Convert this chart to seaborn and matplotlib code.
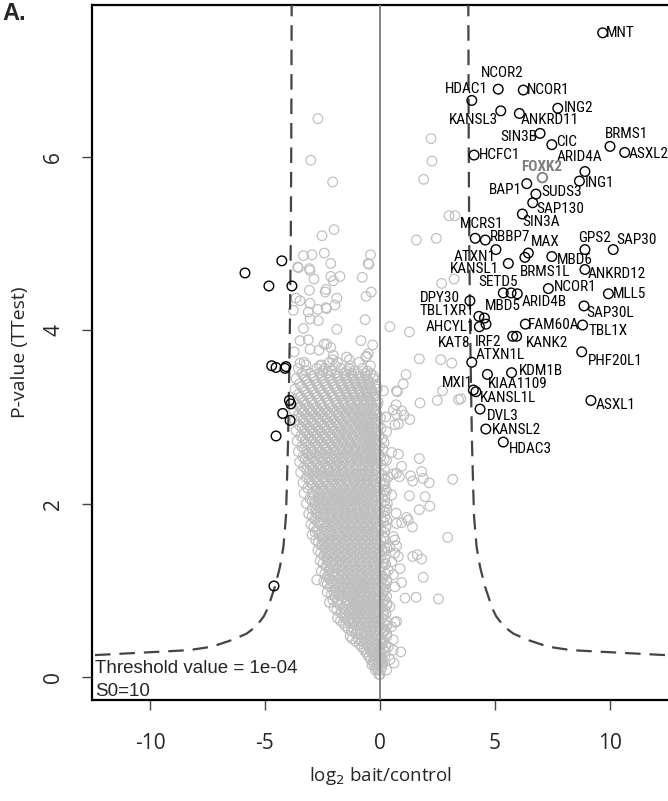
import numpy as np
import pandas as pd
import matplotlib
matplotlib.use("Agg")
import matplotlib.pyplot as plt
import matplotlib.font_manager as fm
import seaborn as sns

# ---------------- data ----------------
hit_names = ["MNT", "NCOR2", "HDAC1", "NCOR1", "KANSL3", "ANKRD11", "ING2", "SIN3B",
             "CIC", "BRMS1", "ASXL2", "HCFC1", "ARID4A", "ING1", "BAP1", "SUDS3",
             "SAP130", "SIN3A", "MCRS1", "RBBP7", "MAX", "BRMS1L", "ATXN1", "MBD6",
             "GPS2", "SAP30", "KANSL1", "ANKRD12", "SETD5", "MBD5", "ARID4B", "NCOR1 ",
             "MLL5", "DPY30", "TBL1XR1", "", "SAP30L", "AHCYL1", "KAT8", "FAM60A",
             "TBL1X", "IRF2", "KANK2", "PHF20L1", "ATXN1L", "KDM1B", "KIAA1109", "MXI1",
             "KANSL1L", "ASXL1", "DVL3", "KANSL2", "HDAC3"]
hit_x = [9.68, 5.14, 3.99, 6.23, 5.25, 6.06, 7.73, 6.96,
         7.47, 10.00, 10.64, 4.09, 8.91, 8.67, 6.38, 6.78,
         6.64, 6.19, 4.14, 4.58, 6.45, 6.30, 5.04, 7.47,
         8.91, 10.14, 5.58, 8.91, 5.36, 5.70, 5.97, 7.32,
         9.93, 3.91, 4.30, 4.54, 8.87, 4.32, 4.61, 6.32,
         8.81, 5.77, 5.94, 8.77, 3.99, 5.72, 4.67, 4.06,
         4.17, 9.17, 4.35, 4.60, 5.36]
hit_y = [7.43, 6.78, 6.65, 6.77, 6.53, 6.50, 6.56, 6.27,
         6.14, 6.12, 6.05, 6.02, 5.83, 5.72, 5.69, 5.57,
         5.47, 5.34, 5.06, 5.04, 4.89, 4.84, 4.93, 4.85,
         4.93, 4.93, 4.77, 4.70, 4.43, 4.43, 4.42, 4.48,
         4.42, 4.34, 4.16, 4.14, 4.28, 4.04, 4.07, 4.07,
         4.06, 3.93, 3.93, 3.75, 3.63, 3.51, 3.49, 3.31,
         3.29, 3.19, 3.09, 2.86, 2.71]

left_x = [-4.27, -5.87, -4.83, -3.83, -4.71, -4.52, -4.13, -4.09, -3.94, -3.88, -4.23, -3.91, -4.52, -4.61]
left_y = [4.80, 4.66, 4.51, 4.51, 3.59, 3.57, 3.56, 3.58, 3.19, 3.15, 3.04, 2.96, 2.78, 1.05]

bait_name = "FOXK2"
bait_x = [7.06]
bait_y = [5.76]

# dense core of non-significant preys, read row by row: (y level, x positions)
core_rows = [
    (0.03, [0.0, -0.05]),
    (0.08, [-0.1, 0.02, -0.2]),
    (0.14, [-0.25, -0.1, 0.05, -0.35]),
    (0.20, [-0.4, -0.2, 0.0, 0.1]),
    (0.26, [-0.55, -0.3, -0.12, 0.05]),
    (0.32, [-0.7, -0.45, -0.22, 0.0, 0.15]),
    (0.38, [-0.9, -0.6, -0.35, -0.1, 0.08]),
    (0.44, [-1.2, -0.95, -0.7, -0.45, -0.2, 0.02]),
    (0.50, [-1.05, -0.8, -0.55, -0.3, -0.08, 0.12]),
    (0.56, [-1.4, -1.15, -0.9, -0.62, -0.38, -0.15, 0.05]),
    (0.62, [-1.6, -1.3, -1.0, -0.75, -0.5, -0.25, 0.0, 0.18]),
    (0.68, [-1.85, -1.5, -1.2, -0.95, -0.7, -0.4, -0.18, 0.08]),
    (0.74, [-1.7, -1.35, -1.1, -0.85, -0.58, -0.3, -0.05]),
    (0.80, [-2.0, -1.6, -1.25, -1.0, -0.75, -0.5, -0.22, 0.05]),
    (0.86, [-2.2, -1.85, -1.45, -1.15, -0.9, -0.62, -0.35, -0.1, 0.12]),
    (0.92, [-1.95, -1.6, -1.3, -1.05, -0.78, -0.5, -0.25, 0.0]),
    (0.98, [-2.3, -2.0, -1.7, -1.4, -1.12, -0.85, -0.6, -0.3, -0.05, 0.15]),
    (1.04, [-2.15, -1.8, -1.52, -1.25, -0.95, -0.7, -0.42, -0.15, 0.05]),
    (1.10, [-2.45, -2.1, -1.88, -1.6, -1.33, -1.05, -0.8, -0.5, -0.25, 0.02]),
    (1.16, [-2.3, -2.0, -1.7, -1.45, -1.18, -0.9, -0.62, -0.35, -0.1, 0.1]),
    (1.22, [-2.55, -2.2, -1.95, -1.65, -1.38, -1.1, -0.82, -0.55, -0.28, 0.0]),
    (1.28, [-2.35, -2.05, -1.78, -1.5, -1.22, -0.95, -0.68, -0.4, -0.15, 0.08]),
    (1.34, [-2.6, -2.28, -2.0, -1.72, -1.45, -1.15, -0.88, -0.6, -0.32, -0.05]),
    (1.40, [-2.45, -2.15, -1.85, -1.58, -1.3, -1.02, -0.75, -0.48, -0.2, 0.05]),
    (1.46, [-2.7, -2.38, -2.1, -1.8, -1.52, -1.25, -0.95, -0.68, -0.4, -0.12, 0.1]),
    (1.52, [-2.55, -2.25, -1.95, -1.66, -1.38, -1.1, -0.82, -0.55, -0.28, 0.0]),
    (1.58, [-2.8, -2.5, -2.2, -1.9, -1.6, -1.32, -1.05, -0.76, -0.5, -0.22, 0.05]),
    (1.64, [-2.95, -2.65, -2.35, -2.05, -1.75, -1.45, -1.18, -0.9, -0.62, -0.35, -0.08]),
    (1.70, [-2.75, -2.45, -2.15, -1.85, -1.56, -1.28, -1.0, -0.72, -0.45, -0.18, 0.05]),
    (1.76, [-3.0, -2.6, -2.3, -2.0, -1.7, -1.42, -1.12, -0.85, -0.58, -0.3, -0.05]),
    (1.82, [-2.85, -2.5, -2.2, -1.9, -1.62, -1.35, -1.05, -0.78, -0.5, -0.22, 0.05]),
    (1.88, [-3.1, -2.75, -2.42, -2.12, -1.8, -1.5, -1.22, -0.95, -0.66, -0.38, -0.1]),
    (1.94, [-2.95, -2.6, -2.3, -2.0, -1.7, -1.4, -1.12, -0.85, -0.55, -0.28, 0.0]),
    (2.00, [-3.2, -2.85, -2.5, -2.18, -1.88, -1.58, -1.3, -1.0, -0.72, -0.45, -0.18, 0.05]),
    (2.06, [-3.05, -2.7, -2.4, -2.08, -1.78, -1.48, -1.2, -0.9, -0.62, -0.35, -0.08]),
    (2.12, [-3.3, -2.95, -2.6, -2.28, -1.95, -1.65, -1.36, -1.08, -0.8, -0.52, -0.25, 0.02]),
    (2.18, [-3.15, -2.8, -2.48, -2.15, -1.85, -1.55, -1.25, -0.96, -0.68, -0.4, -0.12]),
    (2.24, [-3.35, -3.0, -2.68, -2.35, -2.02, -1.72, -1.42, -1.12, -0.85, -0.56, -0.28, 0.0]),
    (2.30, [-3.2, -2.85, -2.52, -2.2, -1.9, -1.6, -1.3, -1.0, -0.72, -0.45, -0.15]),
    (2.36, [-3.45, -3.1, -2.75, -2.42, -2.1, -1.8, -1.5, -1.2, -0.9, -0.6, -0.32, -0.05]),
    (2.42, [-3.3, -2.95, -2.6, -2.28, -1.96, -1.65, -1.35, -1.05, -0.78, -0.5, -0.2]),
    (2.48, [-3.5, -3.15, -2.8, -2.48, -2.15, -1.85, -1.55, -1.25, -0.95, -0.65, -0.38, -0.1]),
    (2.54, [-3.35, -3.0, -2.65, -2.32, -2.0, -1.7, -1.4, -1.1, -0.82, -0.55, -0.25, 0.02]),
    (2.60, [-3.55, -3.2, -2.88, -2.55, -2.22, -1.9, -1.6, -1.3, -1.0, -0.7, -0.42, -0.15]),
    (2.66, [-3.4, -3.05, -2.72, -2.4, -2.06, -1.75, -1.45, -1.15, -0.85, -0.58, -0.3, -0.02]),
    (2.72, [-3.6, -3.25, -2.9, -2.58, -2.25, -1.92, -1.62, -1.32, -1.02, -0.72, -0.45, -0.18]),
    (2.78, [-3.45, -3.1, -2.75, -2.42, -2.1, -1.78, -1.48, -1.18, -0.88, -0.6, -0.32, -0.05]),
    (2.84, [-3.65, -3.3, -2.95, -2.6, -2.28, -1.95, -1.65, -1.35, -1.05, -0.75, -0.48, -0.2]),
    (2.90, [-3.5, -3.15, -2.8, -2.45, -2.12, -1.8, -1.5, -1.2, -0.9, -0.62, -0.35, -0.08]),
    (2.96, [-3.7, -3.35, -3.0, -2.65, -2.3, -1.98, -1.66, -1.35, -1.05, -0.78, -0.5, -0.22]),
    (3.02, [-3.55, -3.2, -2.85, -2.5, -2.15, -1.82, -1.5, -1.2, -0.92, -0.65, -0.38, -0.1]),
    (3.08, [-3.75, -3.4, -3.05, -2.7, -2.35, -2.0, -1.68, -1.38, -1.08, -0.8, -0.52, -0.25]),
    (3.14, [-3.6, -3.25, -2.9, -2.55, -2.2, -1.85, -1.55, -1.25, -0.95, -0.68, -0.4, -0.12]),
    (3.20, [-3.75, -3.35, -3.0, -2.65, -2.3, -1.95, -1.62, -1.3, -1.0, -0.72, -0.45, -0.2]),
    (3.26, [-3.55, -3.15, -2.8, -2.45, -2.1, -1.75, -1.45, -1.15, -0.85, -0.58, -0.3]),
    (3.32, [-3.7, -3.3, -2.95, -2.6, -2.25, -1.9, -1.55, -1.25, -0.95, -0.65, -0.38, -0.12]),
    (3.38, [-3.5, -3.1, -2.75, -2.4, -2.05, -1.7, -1.38, -1.05, -0.78, -0.5, -0.22]),
    (3.44, [-3.65, -3.25, -2.88, -2.52, -2.15, -1.8, -1.48, -1.15, -0.85, -0.55, -0.3]),
    (3.50, [-3.4, -3.0, -2.62, -2.28, -1.92, -1.58, -1.25, -0.95, -0.65, -0.4]),
    (3.56, [-3.55, -2.75, -2.4, -1.7, -1.35, -0.75]),
    (3.63, [-3.3, -2.2, -1.85, -0.9]),
]

# second, interleaved pass over the core (densest part of the funnel)
core_rows_b = [
    (0.11, [-0.15, 0.08]),
    (0.17, [-0.3, -0.05, 0.12]),
    (0.23, [-0.48, -0.22, 0.02, 0.2]),
    (0.29, [-0.62, -0.38, -0.05, 0.22]),
    (0.35, [-0.8, -0.52, -0.28, -0.02, 0.25]),
    (0.41, [-1.05, -0.78, -0.5, -0.25, 0.1]),
    (0.47, [-1.3, -0.6, -0.35, -0.12, 0.3]),
    (0.53, [-1.25, -0.95, -0.68, -0.42, -0.18, 0.2]),
    (0.59, [-1.5, -1.05, -0.82, -0.55, -0.28, -0.05, 0.3]),
    (0.65, [-1.72, -1.38, -1.1, -0.85, -0.6, -0.32, -0.08, 0.25]),
    (0.71, [-1.6, -1.28, -1.02, -0.78, -0.52, -0.22, 0.15]),
    (0.77, [-1.88, -1.48, -1.18, -0.92, -0.66, -0.4, -0.12, 0.22]),
    (0.83, [-1.75, -1.35, -1.08, -0.82, -0.55, -0.28, 0.0, 0.3]),
    (0.89, [-2.05, -1.7, -1.4, -1.2, -0.95, -0.7, -0.45, -0.18, 0.2]),
    (0.95, [-2.12, -1.82, -1.5, -1.18, -0.92, -0.68, -0.4, -0.15, 0.1]),
    (1.01, [-1.95, -1.6, -1.32, -1.02, -0.78, -0.5, -0.22, 0.25]),
    (1.07, [-2.3, -1.98, -1.68, -1.42, -1.15, -0.88, -0.6, -0.35, -0.08, 0.2]),
    (1.13, [-2.2, -1.78, -1.5, -1.22, -0.98, -0.7, -0.45, -0.18, 0.12]),
    (1.19, [-2.4, -2.08, -1.82, -1.55, -1.28, -1.0, -0.75, -0.48, -0.22, 0.25]),
    (1.25, [-2.18, -1.88, -1.6, -1.32, -1.05, -0.78, -0.52, -0.25, 0.0]),
    (1.31, [-2.48, -2.15, -1.9, -1.62, -1.35, -1.08, -0.8, -0.52, -0.25, 0.18]),
    (1.37, [-2.3, -2.02, -1.72, -1.42, -1.18, -0.9, -0.62, -0.35, -0.1, 0.22]),
    (1.43, [-2.58, -2.25, -1.98, -1.68, -1.4, -1.12, -0.85, -0.58, -0.3, -0.02]),
    (1.49, [-2.4, -2.1, -1.82, -1.55, -1.25, -0.98, -0.7, -0.42, -0.15, 0.2]),
    (1.55, [-2.68, -2.35, -2.05, -1.78, -1.48, -1.2, -0.92, -0.65, -0.38, -0.1]),
    (1.61, [-2.5, -2.2, -1.92, -1.62, -1.35, -1.08, -0.8, -0.52, -0.25, 0.15]),
    (1.67, [-2.82, -2.52, -2.22, -1.95, -1.65, -1.38, -1.1, -0.82, -0.55, -0.28, 0.2]),
    (1.73, [-2.88, -2.32, -2.08, -1.8, -1.52, -1.22, -0.95, -0.68, -0.42, -0.12, 0.25]),
    (1.79, [-2.7, -2.42, -2.12, -1.82, -1.55, -1.28, -0.98, -0.7, -0.4, -0.15, 0.15]),
    (1.85, [-2.95, -2.6, -2.3, -2.02, -1.72, -1.42, -1.15, -0.85, -0.58, -0.3, 0.22]),
    (1.91, [-2.8, -2.48, -2.18, -1.88, -1.58, -1.28, -1.0, -0.72, -0.45, -0.15, 0.18]),
    (1.97, [-2.72, -2.42, -2.12, -1.82, -1.55, -1.25, -0.98, -0.7, -0.4, -0.12, 0.25]),
    (2.03, [-2.95, -2.65, -2.32, -2.02, -1.72, -1.42, -1.15, -0.85, -0.58, -0.3, 0.2]),
    (2.09, [-2.85, -2.55, -2.22, -1.92, -1.62, -1.35, -1.05, -0.75, -0.48, -0.2, 0.22]),
    (2.15, [-2.72, -2.42, -2.1, -1.8, -1.5, -1.22, -0.92, -0.65, -0.38, -0.1, 0.28]),
    (2.21, [-2.92, -2.58, -2.25, -1.95, -1.65, -1.35, -1.05, -0.78, -0.5, -0.2, 0.15]),
    (2.27, [-3.08, -2.75, -2.42, -2.1, -1.78, -1.48, -1.18, -0.9, -0.6, -0.32, 0.22]),
    (2.33, [-2.95, -2.62, -2.3, -1.98, -1.68, -1.38, -1.08, -0.8, -0.52, -0.22, 0.1]),
    (2.39, [-3.18, -2.88, -2.55, -2.22, -1.92, -1.62, -1.32, -1.02, -0.72, -0.45, -0.15, 0.2]),
    (2.45, [-3.05, -2.72, -2.38, -2.05, -1.75, -1.45, -1.15, -0.85, -0.55, -0.28, 0.05]),
    (2.51, [-3.25, -2.9, -2.58, -2.25, -1.92, -1.62, -1.32, -1.02, -0.72, -0.42, -0.15, 0.18]),
    (2.57, [-3.12, -2.78, -2.45, -2.12, -1.8, -1.5, -1.2, -0.9, -0.62, -0.35, -0.05]),
    (2.63, [-3.3, -2.98, -2.65, -2.32, -2.0, -1.68, -1.38, -1.08, -0.78, -0.5, -0.22, 0.12]),
    (2.69, [-3.18, -2.82, -2.5, -2.15, -1.85, -1.55, -1.25, -0.95, -0.65, -0.38, -0.1]),
    (2.75, [-3.35, -3.0, -2.68, -2.35, -2.02, -1.7, -1.4, -1.1, -0.8, -0.52, -0.25, 0.1]),
    (2.81, [-3.2, -2.85, -2.52, -2.18, -1.85, -1.55, -1.25, -0.95, -0.68, -0.4, -0.12]),
    (2.87, [-3.38, -3.05, -2.7, -2.38, -2.05, -1.72, -1.42, -1.12, -0.82, -0.55, -0.25, 0.05]),
    (2.93, [-3.25, -2.9, -2.55, -2.22, -1.9, -1.58, -1.28, -0.98, -0.7, -0.42, -0.15]),
    (2.99, [-3.42, -3.08, -2.72, -2.4, -2.08, -1.75, -1.45, -1.15, -0.85, -0.55, -0.28, 0.02]),
    (3.05, [-3.3, -2.95, -2.6, -2.25, -1.92, -1.6, -1.3, -1.0, -0.72, -0.45, -0.18]),
    (3.11, [-3.45, -3.1, -2.78, -2.45, -2.1, -1.78, -1.45, -1.15, -0.85, -0.55, -0.28]),
    (3.17, [-3.3, -2.95, -2.6, -2.25, -1.9, -1.58, -1.28, -0.98, -0.68, -0.4, -0.08]),
    (3.23, [-3.45, -3.1, -2.72, -2.38, -2.05, -1.72, -1.4, -1.1, -0.8, -0.52, -0.25]),
    (3.29, [-3.25, -2.88, -2.52, -2.18, -1.82, -1.5, -1.2, -0.9, -0.6, -0.35]),
    (3.35, [-3.4, -3.02, -2.68, -2.32, -1.98, -1.65, -1.32, -1.02, -0.72, -0.45, -0.15]),
    (3.41, [-3.18, -2.8, -2.45, -2.1, -1.75, -1.42, -1.1, -0.8, -0.5]),
    (3.47, [-3.3, -2.92, -2.55, -2.2, -1.85, -1.52, -1.2, -0.9, -0.6, -0.28]),
    (3.53, [-3.22, -2.48, -2.12, -1.45, -1.12, -0.55]),
    (3.59, [-2.62, -1.95, -1.28, -0.42]),
]

upper_x = [-2.70, -3.01, -2.06, -2.00, -2.52, -3.33, -2.96, -2.42, -2.14, -0.41, -0.51, -3.58,
           -3.07, -3.55, -3.04, -2.87, -2.14, -2.03, -1.74, -0.77, -0.48, -3.07, -2.35, -2.38,
           -1.88, -0.61, -0.38, -3.65, -3.48, -3.77, -3.04, -3.12, -2.70, -2.35, -2.32, -1.96,
           -3.04, -2.68, -1.88, -0.65, -3.33, -3.48, -3.12, -3.04, -2.65, -2.43, -2.32, -2.14,
           -0.83, -0.32, -3.73, -2.03, -2.06, -1.45, -1.33, -0.58, -0.62, -0.51, -3.48, -3.22,
           -2.54, -2.75]
upper_y = [6.44, 5.96, 5.71, 5.16, 5.09, 4.86, 4.87, 4.89, 4.77, 4.87, 4.77, 4.73,
           4.71, 4.72, 4.69, 4.59, 4.62, 4.57, 4.62, 4.61, 4.76, 4.46, 4.47, 4.44,
           4.37, 4.39, 4.44, 4.37, 4.34, 4.23, 4.31, 4.21, 4.24, 4.26, 4.25, 4.29,
           4.13, 4.11, 4.01, 4.12, 4.02, 3.88, 3.89, 3.78, 3.77, 3.84, 3.84, 3.80,
           3.88, 3.83, 3.75, 3.71, 3.66, 3.69, 3.66, 3.70, 3.69, 3.73, 3.62, 3.60,
           3.60, 1.12]

right_x = [2.22, 2.26, 1.90, 3.00, 3.26, 1.58, 2.45, 2.68, 3.22, 0.43, 1.28, 1.71, 2.64, 3.12,
           1.13, 1.01, 0.75, 0.72, 2.72, 2.49, 1.74, 3.41, 3.51, 0.70, 0.94, 1.04, 1.30, 0.58,
           0.72, 0.80, 0.65, 0.29, 0.51, 0.80, 1.71, 0.94, 0.72, 0.58, 0.84, 0.36, 0.22, 1.33,
           1.42, 1.81, 1.88, 2.14, 3.16, 0.51, 1.28, 1.96, 1.71, 2.17, 0.29, 0.70, 0.29, 0.72,
           0.94, 1.16, 1.23, 1.41, 2.94, 0.26, 0.58, 0.65, 0.43, 0.72, 0.29, 0.65, 0.80, 1.42,
           1.62, 1.81, 0.51, 0.87, 0.36, 0.58, 0.94, 0.29, 0.65, 1.88, 1.09, 1.57, 2.54, 0.29,
           0.43, 0.26, 0.72, 0.51, 0.65, 0.29, 0.58, 0.36, 0.90, 0.58, 0.43, 0.61, 0.29,
           0.22, 0.30, 0.18, 0.25, 0.20, 0.32, 0.20, 0.28, 0.18, 0.25, 0.15, 0.20, 0.30, 0.12]
right_y = [6.21, 5.95, 5.74, 5.32, 5.32, 5.04, 5.06, 4.54, 4.59, 4.04, 3.98, 3.67, 3.66, 3.62,
           3.49, 3.38, 3.29, 3.30, 3.30, 3.19, 3.16, 3.20, 3.21, 3.14, 3.07, 3.02, 2.97, 3.08,
           3.03, 2.92, 2.91, 2.83, 2.59, 2.57, 2.52, 2.43, 2.35, 2.34, 2.31, 2.31, 2.23, 2.32,
           2.26, 2.37, 2.29, 2.24, 2.28, 2.10, 2.09, 2.08, 1.93, 1.97, 1.93, 1.89, 1.81, 1.77,
           1.78, 1.84, 1.81, 1.73, 1.61, 1.73, 1.62, 1.58, 1.50, 1.51, 1.49, 1.43, 1.39, 1.39,
           1.41, 1.36, 1.33, 1.25, 1.23, 1.18, 1.09, 1.12, 1.04, 1.15, 0.91, 0.92, 0.90, 0.93,
           0.81, 0.73, 0.64, 0.58, 0.63, 0.50, 0.43, 0.35, 0.29, 0.31, 0.20, 0.16, 0.08,
           0.55, 0.85, 1.00, 1.30, 1.60, 2.00, 2.15, 2.50, 2.70, 3.00, 3.30, 1.45, 1.10, 0.40]

curve_x = [3.84, 3.86, 3.88, 3.92, 3.96, 4.00, 4.05, 4.09, 4.20, 4.35, 4.57, 4.87, 5.05,
           5.40, 5.80, 6.40, 7.30, 8.30, 9.70, 12.60]
curve_y = [7.80, 6.00, 5.00, 4.00, 3.30, 2.70, 2.20, 1.85, 1.50, 1.27, 1.04, 0.80, 0.70,
           0.58, 0.50, 0.43, 0.35, 0.31, 0.29, 0.25]

x_ticks = [-10, -5, 0, 5, 10]
y_ticks = [0, 2, 4, 6]
threshold_text = ["Threshold value = 1e-04", "S0=10"]

# label offsets in pixels (layout)
label_offsets = {
    "MNT": (18, 0), "NCOR2": (4, 16), "HDAC1": (-5, 11), "NCOR1": (25, 0),
    "KANSL3": (-27, -9), "ANKRD11": (30, -7), "ING2": (21, 0), "SIN3B": (-21, -4),
    "CIC": (15, 3), "BRMS1": (17, 12), "ASXL2": (24, -2), "HCFC1": (25, 0),
    "ARID4A": (-5, 15), "ING1": (20, -2), "BAP1": (-21, -6), "SUDS3": (26, 2),
    "SAP130": (28, -6), "SIN3A": (19, -8), "MCRS1": (6, 14), "RBBP7": (25, 3),
    "MAX": (17, 11), "BRMS1L": (20, -15), "ATXN1": (-21, -7), "MBD6": (23, -3),
    "GPS2": (10, 12), "SAP30": (23, 10), "KANSL1": (-34, -6), "ANKRD12": (32, -4),
    "SETD5": (-5, 11), "MBD5": (-8, -13), "ARID4B": (27, -8), "NCOR1 ": (27, 2),
    "MLL5": (21, 0), "DPY30": (-30, 3), "TBL1XR1": (-32, 5), "SAP30L": (26, -7),
    "AHCYL1": (-29, 0), "KAT8": (-32, -19), "FAM60A": (28, -1), "TBL1X": (26, -6),
    "IRF2": (-25, -6), "KANK2": (30, -7), "PHF20L1": (34, -9), "ATXN1L": (28, 7),
    "KDM1B": (29, 2), "KIAA1109": (30, -10), "MXI1": (-16, 7), "KANSL1L": (32, -6),
    "ASXL1": (25, -5), "DVL3": (23, -7), "KANSL2": (31, -1), "HDAC3": (27, -7),
    "FOXK2": (-1, 11),
}

# ---------------- tables ----------------
all_rows = core_rows + core_rows_b
core_x = [x for _, xs in all_rows for x in xs]
core_y = [y for y, xs in all_rows for _ in xs]
gray_df = pd.DataFrame({"x": core_x + upper_x + right_x,
                        "y": core_y + upper_y + right_y})
hits_df = pd.DataFrame({"name": hit_names, "x": hit_x, "y": hit_y})
left_df = pd.DataFrame({"x": left_x, "y": left_y})
bait_df = pd.DataFrame({"name": [bait_name], "x": bait_x, "y": bait_y})
curve_r = pd.DataFrame({"x": curve_x, "y": curve_y})
curve_l = pd.DataFrame({"x": [-v for v in curve_x], "y": curve_y})

# ---------------- fonts ----------------
sns.set_theme(style="white")
plt.rcParams["font.family"] = ["Open Sans", "DejaVu Sans"]


def find_condensed(bold=False):
    prefs = ["liberationsansnarrow", "arialnarrow", "robotocondensed",
             "opensanscondensed", "notosanscondensed", "dejavusanscondensed"]
    cands = []
    for f in fm.fontManager.ttflist:
        base = f.fname.lower().replace("-", "").replace("_", "").split("/")[-1]
        if not ("narrow" in base or "condensed" in base):
            continue
        if "mono" in base or ("serif" in base and "sans" not in base):
            continue
        if ("bold" in base) != bold or "italic" in base or "oblique" in base:
            continue
        if any(k in base for k in ("light", "thin", "black", "medium", "semibold", "extra")):
            continue
        rank = next((i for i, p in enumerate(prefs) if p in base), len(prefs))
        cands.append((rank, f.fname, base))
    if not cands:
        return None, None
    cands.sort()
    return cands[0][1], cands[0][2]


narrow_file, narrow_base = find_condensed(False)
narrow_bold_file, _ = find_condensed(True)
if narrow_file is not None:
    size = 11.5 if ("narrow" in narrow_base) else 11.0
    label_fp = fm.FontProperties(fname=narrow_file, size=size)
    bait_fp = fm.FontProperties(fname=narrow_bold_file or narrow_file, size=size)
else:
    label_fp = fm.FontProperties(family=["Liberation Sans", "DejaVu Sans"], size=9.5)
    bait_fp = fm.FontProperties(family=["Liberation Sans", "DejaVu Sans"], size=9.5, weight="bold")

# ---------------- figure ----------------
W, H = 668, 801
fig = plt.figure(figsize=(W / 100, H / 100), dpi=100)
ax_left, ax_right, ax_top, ax_bot = 92, 669, 5, 700
ax = fig.add_axes([ax_left / W, 1 - ax_bot / H, (ax_right - ax_left) / W, (ax_bot - ax_top) / H])
x0_px, ux = 380, 23.0
y0_px, uy = 677, 86.7
ax.set_xlim((ax_left - x0_px) / ux, (ax_right - x0_px) / ux)
ax.set_ylim((y0_px - ax_bot) / uy, (y0_px - ax_top) / uy)

GRAY = "#BEBEBE"
ms = 48

sns.scatterplot(data=gray_df, x="x", y="y", ax=ax, s=ms, marker="o", legend=False, zorder=2)
ax.collections[-1].set_facecolor("none")
ax.collections[-1].set_edgecolor(GRAY)
ax.collections[-1].set_linewidth(0.85)

ax.axvline(0, color="#7a7a7a", lw=1.3, zorder=3)

for df in (curve_r, curve_l):
    sns.lineplot(data=df, x="x", y="y", ax=ax, sort=False, estimator=None,
                 color="#444444", lw=1.6, zorder=4, legend=False)
    ax.lines[-1].set_dashes([7, 4])

for df in (hits_df, left_df):
    sns.scatterplot(data=df, x="x", y="y", ax=ax, s=ms, marker="o", legend=False, zorder=5)
    ax.collections[-1].set_facecolor("none")
    ax.collections[-1].set_edgecolor("black")
    ax.collections[-1].set_linewidth(1.0)

sns.scatterplot(data=bait_df, x="x", y="y", ax=ax, s=ms, marker="o", legend=False, zorder=5)
ax.collections[-1].set_facecolor("none")
ax.collections[-1].set_edgecolor("#7f7f7f")
ax.collections[-1].set_linewidth(1.3)

for _, r in hits_df.iterrows():
    if not r["name"].strip():
        continue
    dx, dy = label_offsets[r["name"]]
    ax.annotate(r["name"].strip(), (r["x"], r["y"]), xytext=(dx, dy), textcoords="offset pixels",
                ha="center", va="center", fontproperties=label_fp, color="black", zorder=6)
for _, r in bait_df.iterrows():
    dx, dy = label_offsets[r["name"]]
    ax.annotate(r["name"], (r["x"], r["y"]), xytext=(dx, dy), textcoords="offset pixels",
                ha="center", va="center", fontproperties=bait_fp, color="#7f7f7f", zorder=6)

ax.text(0.005, 0.045, threshold_text[0], transform=ax.transAxes, ha="left", va="center",
        fontsize=13.5, family=["Liberation Sans", "DejaVu Sans"])
ax.text(0.005, 0.012, threshold_text[1], transform=ax.transAxes, ha="left", va="center",
        fontsize=13.5, family=["Liberation Sans", "DejaVu Sans"])

for side in ("left", "top", "bottom"):
    ax.spines[side].set_color("black")
    ax.spines[side].set_linewidth(1.6)
ax.spines["right"].set_visible(False)

ax.set_xticks(x_ticks)
ax.set_xticklabels([str(t) for t in x_ticks])
ax.set_yticks(y_ticks)
ax.set_yticklabels([str(t) for t in y_ticks], rotation=90, va="center")
ax.tick_params(axis="both", direction="out", length=7, width=1.0, color="#444444",
               labelsize=15, bottom=True, left=True)
ax.tick_params(axis="x", pad=17)
ax.tick_params(axis="y", pad=13)
ax.set_xlabel(r"log$_2$ bait/control", fontsize=13.5, labelpad=8)
ax.set_ylabel("P-value (TTest)", fontsize=14, labelpad=10)

fig.text(0.004, 1 - 20 / H, "A.", fontsize=17, fontweight="bold", ha="left", va="baseline",
         family=["Liberation Sans", "DejaVu Sans"])

fig.savefig("out.png", dpi=100)
